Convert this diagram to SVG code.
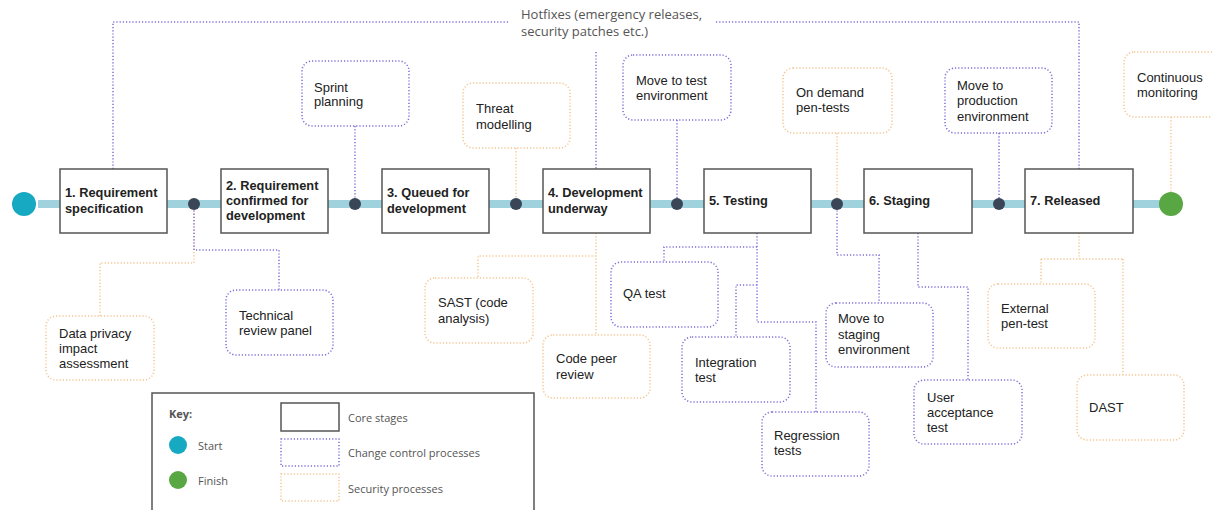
<svg xmlns="http://www.w3.org/2000/svg" width="1212" height="510" viewBox="0 0 1212 510">
<style>
.core{fill:#fff;stroke:#555;stroke-width:1.5}
.cc{fill:#fff;stroke:#7b6fd8;stroke-width:1.5;stroke-dasharray:1.2 2}
.sec{fill:#fff;stroke:#f3c58e;stroke-width:1.5;stroke-dasharray:1.2 2}
.lcc{fill:none;stroke:#7b6fd8;stroke-width:1.5;stroke-dasharray:1.2 2}
.lsec{fill:none;stroke:#f3c58e;stroke-width:1.5;stroke-dasharray:1.2 2}
.bt{font-family:"Liberation Sans",Arial,sans-serif;font-size:12.8px;font-weight:bold;fill:#222}
.t{font-family:"Liberation Sans",Arial,sans-serif;font-size:13px;fill:#222}
.os{font-family:"Open Sans",sans-serif;fill:#555}
.dot{fill:#3a4558}
</style>
<rect width="1212" height="510" fill="#fff"/>
<g id="connectors">
<rect x="38" y="200" width="1122" height="8" fill="#9fd2dc"/>
<path class="lcc" d="M113 169V22H510M716 22H1079V169M596 52V169"/>
<path class="lcc" d="M355 126V204M677 120V204M999 133V204"/>
<path class="lsec" d="M516 148V204M837 133V204M1171 117V192"/>
<path class="lsec" d="M194 204V263H100V317"/>
<path class="lcc" d="M194 204V250H279V290"/>
<path class="lsec" d="M596 233V335M596 256H478V278"/>
<path class="lcc" d="M757 233V322H816V412M757 247H664V262M757 285H736V337"/>
<path class="lcc" d="M837 204V255H879V303"/>
<path class="lcc" d="M918 233V287H968V380"/>
<path class="lsec" d="M1079 233V259M1041 259H1123M1041 259V284M1123 259V375"/>
</g>
<g id="hotfix-label">
<text class="os" font-size="13" x="521" y="18.5">Hotfixes (emergency releases,</text>
<text class="os" font-size="13" x="521" y="35.5">security patches etc.)</text>
</g>
<g id="start"><circle cx="24" cy="204" r="12" fill="#17a9c1"/></g>
<g id="finish"><circle cx="1171" cy="204" r="12" fill="#58a743"/></g>
<g id="junctions">
<circle class="dot" cx="194" cy="204" r="6"/>
<circle class="dot" cx="355" cy="204" r="6"/>
<circle class="dot" cx="516" cy="204" r="6"/>
<circle class="dot" cx="677" cy="204" r="6"/>
<circle class="dot" cx="837" cy="204" r="6"/>
<circle class="dot" cx="999" cy="204" r="6"/>
</g>
<g id="stage1"><rect class="core" x="60" y="169" width="107" height="64"/><text class="bt" x="65" y="197">1. Requirement</text><text class="bt" x="65" y="213">specification</text></g>
<g id="stage2"><rect class="core" x="221" y="169" width="107" height="64"/><text class="bt" x="226" y="190">2. Requirement</text><text class="bt" x="226" y="205">confirmed for</text><text class="bt" x="226" y="220">development</text></g>
<g id="stage3"><rect class="core" x="382" y="169" width="107" height="64"/><text class="bt" x="387" y="197">3. Queued for</text><text class="bt" x="387" y="213">development</text></g>
<g id="stage4"><rect class="core" x="543" y="169" width="107" height="64"/><text class="bt" x="548" y="197">4. Development</text><text class="bt" x="548" y="213">underway</text></g>
<g id="stage5"><rect class="core" x="704" y="169" width="107" height="64"/><text class="bt" x="709" y="205">5. Testing</text></g>
<g id="stage6"><rect class="core" x="864" y="169" width="108" height="64"/><text class="bt" x="869" y="205">6. Staging</text></g>
<g id="stage7"><rect class="core" x="1025" y="169" width="108" height="64"/><text class="bt" x="1030" y="205">7. Released</text></g>
<g id="sprint"><rect class="cc" x="302" y="61" width="107" height="65" rx="10"/><text class="t" x="314" y="92">Sprint</text><text class="t" x="314" y="106">planning</text></g>
<g id="threat"><rect class="sec" x="463" y="83" width="107" height="65" rx="10"/><text class="t" x="476" y="113">Threat</text><text class="t" x="476" y="129">modelling</text></g>
<g id="movetest"><rect class="cc" x="623" y="55" width="108" height="65" rx="10"/><text class="t" x="636" y="85">Move to test</text><text class="t" x="636" y="100">environment</text></g>
<g id="pentests"><rect class="sec" x="783" y="68" width="109" height="65" rx="10"/><text class="t" x="796" y="97">On demand</text><text class="t" x="796" y="112">pen-tests</text></g>
<g id="moveprod"><rect class="cc" x="945" y="68" width="107" height="65" rx="10"/><text class="t" x="957" y="90">Move to</text><text class="t" x="957" y="105">production</text><text class="t" x="957" y="121">environment</text></g>
<g id="monitoring"><rect class="sec" x="1124" y="52" width="108" height="65" rx="10"/><text class="t" x="1137" y="82">Continuous</text><text class="t" x="1137" y="97">monitoring</text></g>
<g id="dpia"><rect class="sec" x="46" y="316" width="108" height="64" rx="10"/><text class="t" x="59" y="338">Data privacy</text><text class="t" x="59" y="353">impact</text><text class="t" x="59" y="368">assessment</text></g>
<g id="techreview"><rect class="cc" x="226" y="290" width="107" height="65" rx="10"/><text class="t" x="239" y="320">Technical</text><text class="t" x="239" y="335">review panel</text></g>
<g id="sast"><rect class="sec" x="425" y="278" width="108" height="65" rx="10"/><text class="t" x="438" y="307">SAST (code</text><text class="t" x="438" y="323">analysis)</text></g>
<g id="codereview"><rect class="sec" x="543" y="335" width="107" height="63" rx="10"/><text class="t" x="556" y="363">Code peer</text><text class="t" x="556" y="379">review</text></g>
<g id="qa"><rect class="cc" x="611" y="262" width="107" height="65" rx="10"/><text class="t" x="623" y="298">QA test</text></g>
<g id="integration"><rect class="cc" x="682" y="337" width="108" height="65" rx="10"/><text class="t" x="695" y="367">Integration</text><text class="t" x="695" y="382">test</text></g>
<g id="regression"><rect class="cc" x="762" y="412" width="107" height="64" rx="10"/><text class="t" x="774" y="440">Regression</text><text class="t" x="774" y="455">tests</text></g>
<g id="movestaging"><rect class="cc" x="826" y="303" width="107" height="64" rx="10"/><text class="t" x="838" y="323">Move to</text><text class="t" x="838" y="339">staging</text><text class="t" x="838" y="354">environment</text></g>
<g id="uat"><rect class="cc" x="914" y="380" width="108" height="64" rx="10"/><text class="t" x="927" y="402">User</text><text class="t" x="927" y="417">acceptance</text><text class="t" x="927" y="432">test</text></g>
<g id="external"><rect class="sec" x="988" y="284" width="107" height="64" rx="10"/><text class="t" x="1001" y="313">External</text><text class="t" x="1001" y="328">pen-test</text></g>
<g id="dast"><rect class="sec" x="1077" y="375" width="107" height="65" rx="10"/><text class="t" x="1089" y="412">DAST</text></g>
<g id="key">
<rect x="152" y="393" width="382" height="125" fill="#fff" stroke="#555" stroke-width="1.5"/>
<text class="os" x="169" y="418" font-size="11" font-weight="bold" fill="#333">Key:</text>
<circle cx="178" cy="445" r="9" fill="#17a9c1"/>
<text class="os" x="198" y="450" font-size="11" fill="#777">Start</text>
<circle cx="178" cy="480" r="9" fill="#58a743"/>
<text class="os" x="198" y="485" font-size="11" fill="#777">Finish</text>
<rect class="core" x="281" y="403" width="58" height="28"/>
<text class="os" x="348" y="422" font-size="11" fill="#666">Core stages</text>
<rect class="cc" x="281" y="439" width="58" height="27"/>
<text class="os" x="348" y="457" font-size="11" fill="#666">Change control processes</text>
<rect class="sec" x="281" y="474" width="58" height="27"/>
<text class="os" x="348" y="493" font-size="11" fill="#666">Security processes</text>
</g>
</svg>
